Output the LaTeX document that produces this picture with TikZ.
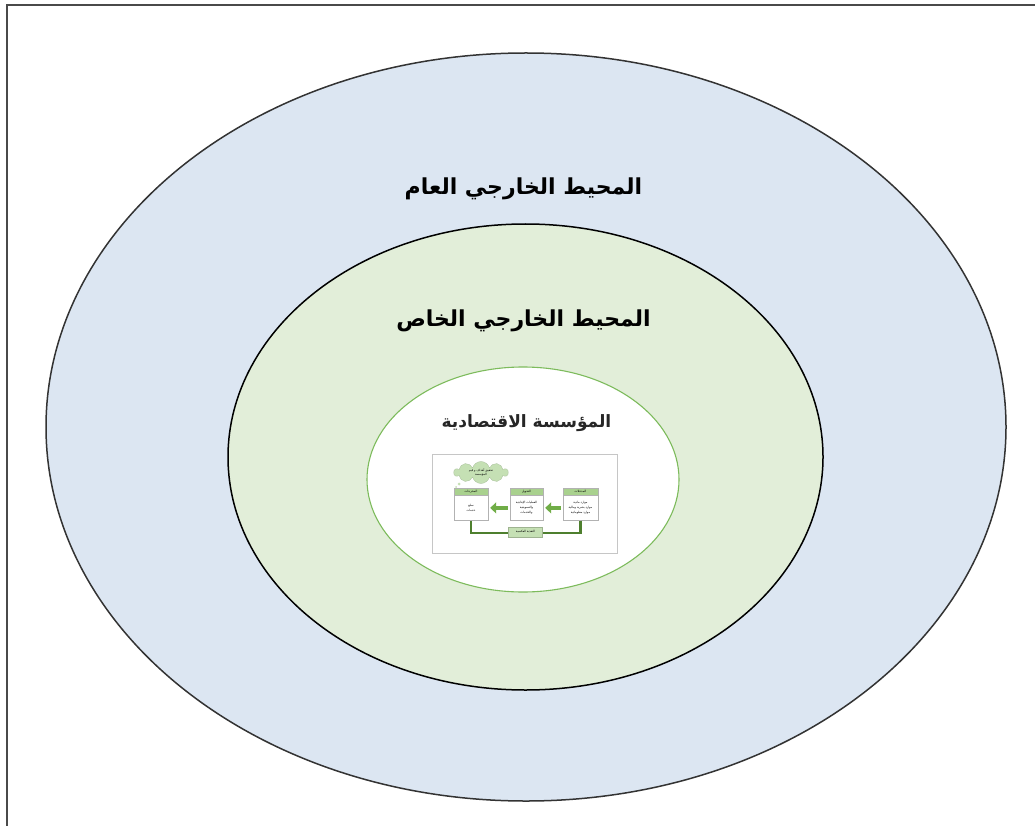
\documentclass[tikz,border=0pt]{standalone}
\usepackage{fontspec}
\usetikzlibrary{shapes.geometric,shapes.symbols,arrows.meta}
\TeXXeTstate=1
\newfontfamily\arabicfont[Script=Arabic]{DejaVu Sans}

\definecolor{outerfill}{HTML}{DCE6F2}
\definecolor{midfill}{HTML}{E2EED9}
\definecolor{coreline}{HTML}{7DBB5C}
\definecolor{hdrgreen}{HTML}{A9D18E}
\definecolor{arrgreen}{HTML}{70AD47}
\definecolor{fbgreen}{HTML}{4E7F2E}
\definecolor{cloudgreen}{HTML}{C5E0B4}
\definecolor{framegray}{HTML}{4A4A4A}

\tikzset{
  ring/.style={ellipse, inner sep=0pt},
  bigtitle/.style={font=\arabicfont\bfseries\fontsize{22}{26}\selectfont, text=black},
  coretitle/.style={font=\arabicfont\bfseries\fontsize{17}{20}\selectfont, text=black!85},
  hdrbox/.style={draw=gray!60, fill=hdrgreen, minimum height=7, inner sep=0pt,
    font=\arabicfont\fontsize{3}{3.5}\selectfont},
  bodybox/.style={draw=gray!60, fill=white, minimum height=25, inner sep=0pt, align=center,
    font=\arabicfont\fontsize{3}{5}\selectfont},
  flowarrow/.style={draw=arrgreen, line width=4.5pt,
    -{Triangle[length=6pt,width=11pt]}, shorten <=2pt, shorten >=2pt},
  feedback/.style={draw=fbgreen, line width=2.2pt},
  fblabel/.style={fill=cloudgreen, draw=cloudgreen!80!black, minimum width=34, minimum height=10,
    inner sep=0pt, font=\arabicfont\fontsize{3}{3.5}\selectfont}
}

\begin{document}
\begin{tikzpicture}[x=1pt,y=-1pt]
\useasboundingbox (0,0) rectangle (1035,826);
\fill[white] (0,0) rectangle (1035,826);

% page frame (top and left edges)
\draw[framegray, line width=2pt] (7,830) -- (7,5.5) -- (1040,5.5);

% nested environment rings
\node[ring, draw=black!80, line width=1.5pt, fill=outerfill,
      minimum width=960, minimum height=748] (general) at (526,427) {};
\node[ring, draw=black, line width=1.5pt, fill=midfill,
      minimum width=595, minimum height=466] (specific) at (525.5,457) {};
\node[ring, draw=coreline, line width=1.1pt, fill=white,
      minimum width=312, minimum height=225] (firm) at (523,479.5) {};

% ring titles
\node[bigtitle] (tGeneral) at (523.5,189) {\beginR المحيط الخارجي العام\endR};
\node[bigtitle] (tSpecific) at (523.5,321) {\beginR المحيط الخارجي الخاص\endR};
\node[coretitle] (tFirm) at (526.5,423) {\beginR المؤسسة الاقتصادية\endR};

% small system diagram inside the firm
\node[draw=gray!45, line width=0.8pt, fill=white, minimum width=185, minimum height=99,
      inner sep=0pt] (sysframe) at (524.5,503.5) {};

\node[hdrbox, minimum width=34] (outH) at (471,491.5) {\beginR المخرجات\endR};
\node[bodybox, minimum width=34, anchor=north] (outB) at (outH.south) {\beginR سلع\endR\\ \beginR خدمات\endR};

\node[hdrbox, minimum width=33] (procH) at (526.5,491.5) {\beginR التحويل\endR};
\node[bodybox, minimum width=33, anchor=north] (procB) at (procH.south)
  {\beginR العمليات الإنتاجية\endR\\ \beginR والتسويقية\endR\\ \beginR والخدمات\endR};

\node[hdrbox, minimum width=35] (inH) at (580.5,491.5) {\beginR المدخلات\endR};
\node[bodybox, minimum width=35, anchor=north] (inB) at (inH.south)
  {\beginR موارد مادية\endR\\ \beginR موارد بشرية ومالية\endR\\ \beginR موارد معلوماتية\endR};

\draw[flowarrow] (inB.west) -- (procB.east);
\draw[flowarrow] (procB.west) -- (outB.east);

\coordinate (fbR) at ([yshift=-12pt]inB.south);
\draw[feedback] (inB.south) -- (fbR) -| (outB.south);
\node[fblabel] (fbL) at (525.5,532) {\beginR التغذية العكسية\endR};

\node[cloud, cloud puffs=10, aspect=2.4, fill=cloudgreen, draw=cloudgreen!85!black,
      line width=0.3pt, minimum width=54, minimum height=22, inner sep=0pt, align=center,
      font=\arabicfont\fontsize{3}{4.5}\selectfont] (goal) at (481,472.5)
  {\beginR تحقيق أهداف و قيم\endR\\ \beginR المؤسسة\endR};
\node[circle, fill=cloudgreen, minimum size=3, inner sep=0pt] (b1) at (459,484) {};
\node[circle, fill=cloudgreen, minimum size=2, inner sep=0pt] (b2) at (456,487) {};
\end{tikzpicture}
\end{document}
